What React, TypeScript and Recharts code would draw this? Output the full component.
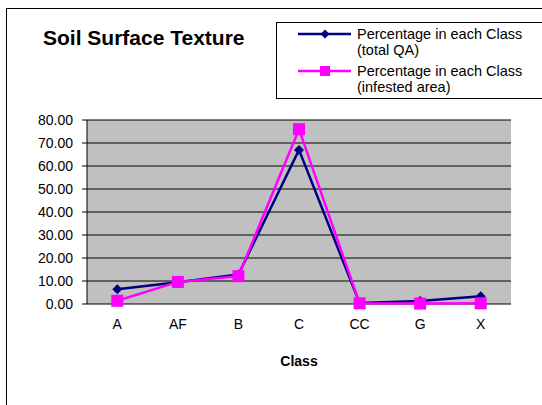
import React from "react";
import {
  LineChart,
  Line,
  XAxis,
  YAxis,
  CartesianGrid,
  ReferenceArea,
  Legend,
} from "recharts";

// --- Data ---
const classes = ["A", "AF", "B", "C", "CC", "G", "X"];
const totalQA = [6.4, 9.5, 12.8, 67.0, 0.4, 1.3, 3.4];
const infestedArea = [1.4, 9.6, 12.1, 76.0, 0.3, 0.2, 0.3];
const yTicks = [0, 10, 20, 30, 40, 50, 60, 70, 80];
const boundaryTicks = [0, 1, 2, 3, 4, 5, 6, 7];
const legendOrder = ["total", "infested"];

const data = classes.map((cls, i) => ({
  cls,
  total: totalQA[i],
  infested: infestedArea[i],
}));

const FONT = "Arial, 'Liberation Sans', sans-serif";
const NAVY = "#000080";
const MAGENTA = "#FF00FF";

const Diamond = ({ cx, cy, r, fill }: any) => (
  <path d={`M${cx},${cy - r}L${cx + r},${cy}L${cx},${cy + r}L${cx - r},${cy}Z`} fill={fill} />
);

const Square = ({ cx, cy, r, fill }: any) => (
  <rect x={cx - r} y={cy - r} width={r * 2} height={r * 2} fill={fill} />
);

const renderDiamond = (props: any) => (
  <Diamond key={`d-${props.index}`} cx={props.cx} cy={props.cy} r={5} fill={NAVY} />
);
const renderSquare = (props: any) => (
  <Square key={`s-${props.index}`} cx={props.cx} cy={props.cy} r={6} fill={MAGENTA} />
);

const LegendBox = ({ payload }: any) => {
  // keep series in plotting order, not alphabetical
  const items = [...(payload || [])].sort(
    (a: any, b: any) => legendOrder.indexOf(a.dataKey) - legendOrder.indexOf(b.dataKey)
  );
  return (
    <div
      style={{
        border: "1px solid #000",
        background: "#fff",
        width: 300,
        height: 77,
        paddingTop: 3,
        boxSizing: "border-box",
        fontFamily: FONT,
        fontSize: 14.5,
        lineHeight: "16px",
        color: "#000",
      }}
    >
      {items.map((entry: any, i: number) => (
        <div key={i} style={{ display: "flex", marginBottom: 5 }}>
          <svg width={80} height={16} style={{ flex: "none" }}>
            <line x1={21} x2={74} y1={8} y2={8} stroke={entry.color} strokeWidth={2.5} />
            {entry.dataKey === "total" ? (
              <Diamond cx={48} cy={8} r={4.5} fill={entry.color} />
            ) : (
              <Square cx={48} cy={8} r={5} fill={entry.color} />
            )}
          </svg>
          <div style={{ whiteSpace: "pre" }}>{entry.value}</div>
        </div>
      ))}
    </div>
  );
};

export default function App() {
  return (
    <div
      style={{
        position: "absolute",
        left: 0,
        top: 0,
        width: 542,
        height: 405,
        overflow: "hidden",
        background: "#fff",
      }}
    >
      {/* chart frame */}
      <div
        style={{
          position: "absolute",
          left: 6,
          top: 8,
          width: 600,
          height: 500,
          border: "1px solid #000",
        }}
      />
      <div
        style={{
          position: "absolute",
          left: 43,
          top: 26,
          fontFamily: FONT,
          fontWeight: "bold",
          fontSize: 21,
          color: "#000",
          whiteSpace: "nowrap",
        }}
      >
        Soil Surface Texture
      </div>
      <div style={{ position: "absolute", left: 0, top: 0 }}>
        <LineChart
          width={542}
          height={405}
          data={data}
          margin={{ top: 120, right: 31, bottom: 39, left: 27 }}
        >
          <CartesianGrid
            xAxisId="cat"
            vertical={false}
            fill="#C0C0C0"
            fillOpacity={1}
            stroke="#000"
            strokeWidth={1}
          />
          <XAxis
            xAxisId="grid"
            type="number"
            domain={[0, 7]}
            ticks={boundaryTicks}
            allowDataOverflow
            tick={false}
            tickSize={5}
            height={0}
            axisLine={{ stroke: "#000" }}
            tickLine={{ stroke: "#000" }}
          />
          <XAxis
            xAxisId="cat"
            dataKey="cls"
            scale="band"
            height={62}
            tickSize={0}
            tickMargin={15}
            axisLine={false}
            tickLine={false}
            tick={{ fill: "#000", fontSize: 14, fontFamily: FONT }}
            label={{
              value: "Class",
              position: "insideBottom",
              offset: 0,
              fill: "#000",
              fontSize: 14,
              fontWeight: "bold",
              fontFamily: FONT,
            }}
          />
          <YAxis
            domain={[0, 80]}
            ticks={yTicks}
            width={60}
            tickSize={5}
            tickMargin={9}
            tickFormatter={(v: number) => v.toFixed(2)}
            axisLine={{ stroke: "#000" }}
            tickLine={{ stroke: "#000" }}
            tick={{ fill: "#000", fontSize: 14, fontFamily: FONT }}
          />
          <ReferenceArea
            xAxisId="grid"
            x1={0}
            x2={7}
            y1={0}
            y2={80}
            fill="none"
            stroke="#808080"
            strokeWidth={2}
          />
          <Line
            xAxisId="cat"
            type="linear"
            dataKey="total"
            name={"Percentage in each Class\n(total QA)"}
            stroke={NAVY}
            strokeWidth={2.5}
            dot={renderDiamond}
            activeDot={false}
            isAnimationActive={false}
          />
          <Line
            xAxisId="cat"
            type="linear"
            dataKey="infested"
            name={"Percentage in each Class\n(infested area)"}
            stroke={MAGENTA}
            strokeWidth={2.5}
            dot={renderSquare}
            activeDot={false}
            isAnimationActive={false}
          />
          <Legend
            layout="horizontal"
            verticalAlign="middle"
            align="center"
            content={LegendBox}
            wrapperStyle={{ left: 276, top: 22, width: 300 }}
          />
        </LineChart>
      </div>
    </div>
  );
}
